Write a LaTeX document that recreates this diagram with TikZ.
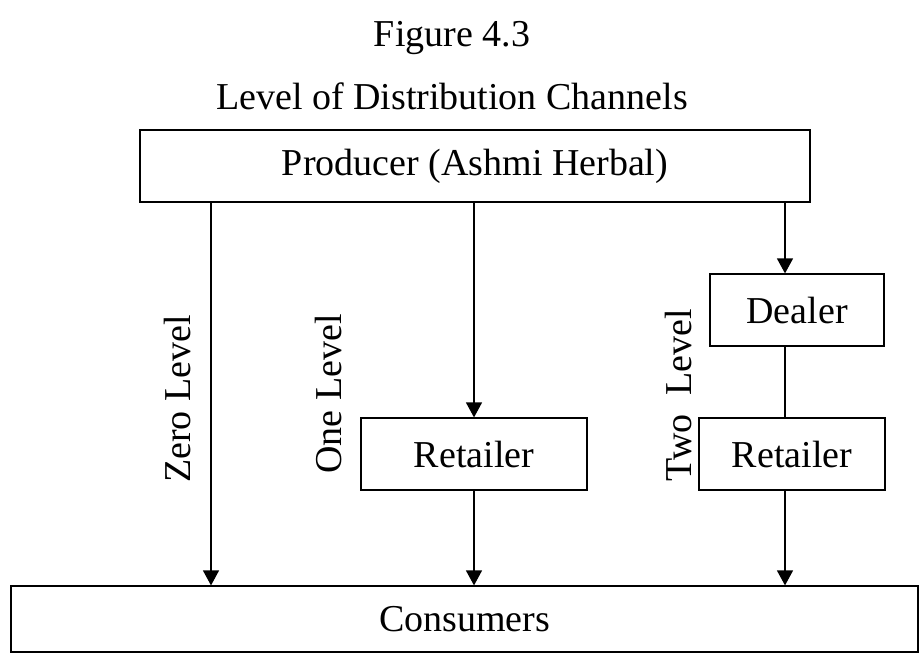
\documentclass[tikz,border=0pt]{standalone}
\usepackage{fontspec}
\setmainfont{Liberation Serif}
\usetikzlibrary{arrows.meta,positioning}

\begin{document}
\begin{tikzpicture}[
      x=1pt,y=1pt,
      font=\fontsize{38}{45}\selectfont,
      box/.style={draw,line width=1.2pt,minimum height=72pt,inner sep=0pt},
      arrow/.style={-{Triangle[length=15pt,width=16pt]},line width=1.2pt},
      link/.style={line width=1.2pt},
      level/.style={rotate=90,inner sep=0pt}
    ]
      \useasboundingbox (0,0) rectangle (923,-656);

      % headings
      \node (fig) at (452,-38) {Figure 4.3};
      \node (title) at (452,-96) {Level of Distribution Channels};

      % channel members
      \node[box,minimum width=670pt] (producer) at (475,-166) {Producer (Ashmi Herbal)};
      \node[box,minimum width=907pt,minimum height=66pt] (consumers) at (464.5,-619) {Consumers};
      \node[box,minimum width=226pt] (retailA) at (474,-454) {Retailer};
      \node[box,minimum width=174pt] (dealer) at (797,-310) {Dealer};
      \node[box,minimum width=186pt] (retailB) at (792,-454) {Retailer};

      \coordinate (zero) at (211,0);
      \coordinate (two) at (785,0);

      % zero level
      \draw[arrow] (zero |- producer.south) -- (zero |- consumers.north);
      % one level
      \draw[arrow] (retailA.north |- producer.south) -- (retailA.north);
      \draw[arrow] (retailA.south) -- (retailA.south |- consumers.north);
      % two level
      \draw[arrow] (two |- producer.south) -- (two |- dealer.north);
      \draw[link] (two |- dealer.south) -- (two |- retailB.north);
      \draw[arrow] (two |- retailB.south) -- (two |- consumers.north);

      \node[level] (zerolab) at (178,-399) {Zero Level};
      \node[level] (onelab) at (328,-394) {One Level};
      \node[level] (twolab) at (678,-395) {Two~ Level};
    \end{tikzpicture}
\end{document}
